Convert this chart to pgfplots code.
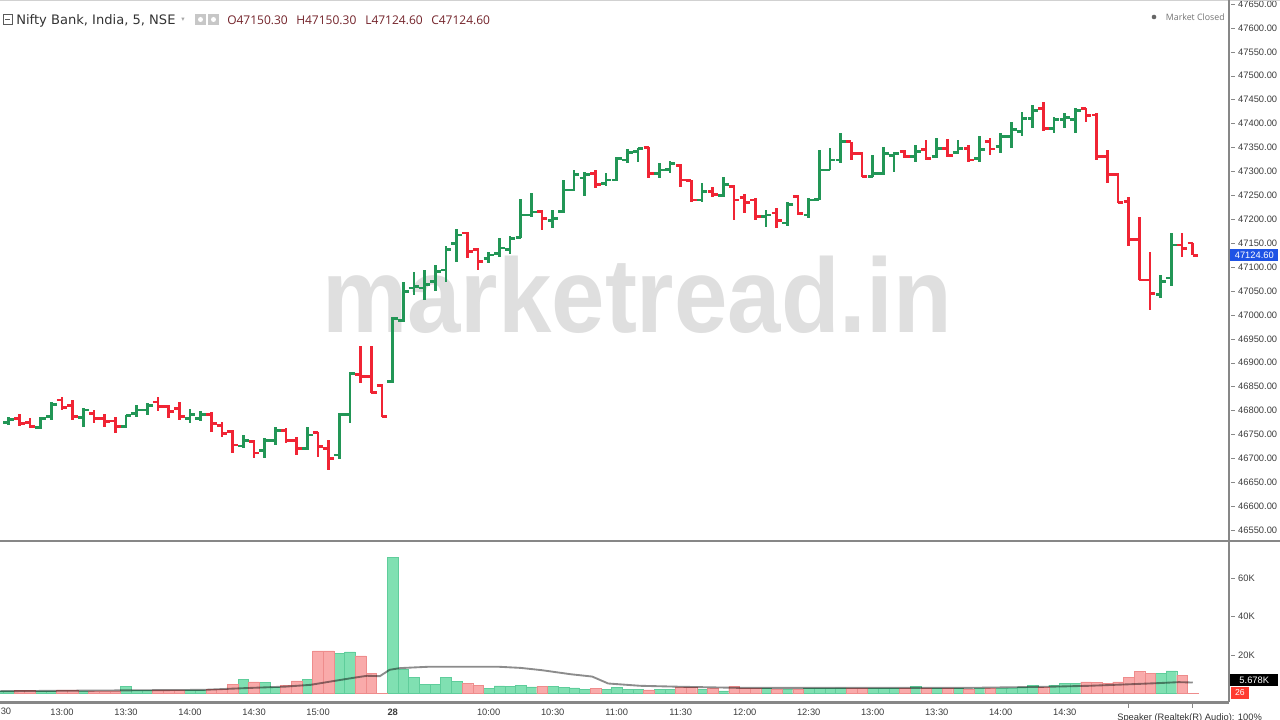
\documentclass[border=0pt]{standalone}
\usepackage{pgfplots}
\pgfplotsset{compat=1.18}
\usepackage{pgfplotstable}
\usepackage{fontspec}
\setmainfont{Liberation Sans}
\newfontfamily\osans{Open Sans}
\newfontfamily\dejavu{DejaVu Sans}
\definecolor{upc}{RGB}{34,150,86}
\definecolor{dnc}{RGB}{240,36,52}
\definecolor{vup}{RGB}{128,224,178}
\definecolor{vupe}{RGB}{95,205,155}
\definecolor{vdn}{RGB}{249,170,170}
\definecolor{vdne}{RGB}{238,140,140}
\definecolor{axisgray}{RGB}{135,135,135}
\definecolor{lab}{RGB}{60,60,60}
\definecolor{ohlc}{RGB}{115,35,42}
\definecolor{wm}{RGB}{223,223,223}
\definecolor{pblue}{RGB}{30,83,229}
\definecolor{vred}{RGB}{255,59,48}

\pgfdeclareplotmark{tickL}{\pgfpathmoveto{\pgfqpoint{-3.9pt}{0pt}}\pgfpathlineto{\pgfqpoint{0pt}{0pt}}\pgfusepathqstroke}
\pgfdeclareplotmark{tickR}{\pgfpathmoveto{\pgfqpoint{0pt}{0pt}}\pgfpathlineto{\pgfqpoint{3.9pt}{0pt}}\pgfusepathqstroke}
\newcommand\dashm{{\color{axisgray}\rule[0.28em]{3pt}{0.6pt}}\hspace{2.2pt}}

\pgfplotstableread{
x o h l c
-6 46769 46778 46766 46772
-5 46775 46787 46770 46782
-2 46765 46786 46761 46784
-1 46787 46818 46780 46813
2 46786 46805 46765 46801
6 46766 46791 46763 46789
7 46794 46812 46787 46801
8 46801 46815 46791 46810
12 46784 46803 46773 46791
13 46784 46798 46779 46791
17 46726 46749 46722 46738
19 46717 46742 46700 46738
20 46738 46766 46728 46759
23 46721 46766 46717 46749
26 46707 46794 46698 46791
27 46791 46881 46773 46878
31 46860 46996 46857 46993
32 46989 47069 46986 47049
33 47056 47090 47042 47060
34 47056 47094 47031 47063
35 47069 47104 47049 47090
36 47094 47143 47069 47136
37 47150 47179 47111 47167
40 47118 47132 47108 47125
41 47129 47161 47121 47140
42 47136 47165 47127 47160
43 47162 47242 47160 47209
44 47209 47254 47204 47215
46 47198 47219 47181 47202
47 47216 47281 47212 47261
48 47261 47303 47258 47293
49 47286 47299 47249 47293
51 47275 47297 47270 47282
52 47282 47331 47281 47327
53 47324 47346 47317 47339
54 47341 47348 47320 47348
56 47296 47317 47286 47303
57 47304 47322 47297 47317
60 47240 47275 47237 47258
62 47249 47289 47247 47272
66 47205 47219 47184 47209
68 47192 47237 47186 47230
70 47209 47244 47202 47240
71 47242 47345 47240 47303
72 47303 47348 47303 47324
73 47324 47381 47317 47362
76 47290 47334 47288 47296
77 47296 47352 47293 47338
78 47334 47341 47299 47338
80 47331 47355 47320 47341
82 47331 47369 47327 47348
84 47339 47366 47338 47348
86 47327 47374 47320 47345
88 47352 47380 47338 47373
89 47373 47404 47348 47387
90 47383 47425 47373 47411
91 47411 47439 47390 47428
93 47390 47414 47380 47408
94 47408 47422 47390 47412
95 47408 47432 47380 47428
103 47042 47083 47036 47069
104 47077 47171 47061 47146
}\upbars

\pgfplotstableread{
x o h l c
-4 46784 46792 46768 46773
-3 46775 46784 46763 46766
0 46822 46829 46801 46806
1 46810 46821 46780 46787
3 46794 46801 46773 46784
4 46784 46792 46766 46777
5 46778 46787 46752 46766
9 46818 46829 46799 46808
10 46808 46812 46784 46798
11 46805 46818 46780 46787
14 46791 46796 46756 46773
15 46768 46775 46745 46752
16 46756 46759 46711 46728
18 46736 46738 46700 46711
21 46759 46763 46732 46738
22 46737 46745 46707 46721
24 46754 46756 46703 46724
25 46721 46738 46676 46700
28 46876 46935 46857 46871
29 46871 46935 46836 46837
30 46853 46855 46786 46787
38 47171 47174 47118 47132
39 47136 47139 47094 47111
45 47216 47219 47178 47202
50 47296 47303 47265 47272
55 47350 47352 47286 47296
58 47313 47315 47268 47282
59 47281 47282 47237 47240
61 47258 47268 47247 47251
63 47268 47272 47198 47240
64 47245 47253 47214 47235
65 47240 47244 47198 47205
67 47213 47223 47181 47198
69 47247 47251 47209 47212
74 47362 47362 47324 47338
75 47338 47341 47289 47290
79 47341 47345 47327 47331
81 47345 47366 47324 47327
83 47348 47367 47331 47334
85 47348 47355 47320 47324
87 47362 47369 47334 47347
92 47432 47445 47385 47390
96 47432 47433 47404 47417
97 47418 47422 47324 47331
98 47331 47345 47275 47293
99 47293 47296 47233 47235
100 47237 47247 47143 47157
101 47157 47205 47073 47073
102 47073 47132 47010 47045
105 47146 47171 47122 47139
106 47150.3 47150.3 47124.6 47124.6
}\dnbars

\pgfplotstableread{
x v
-6 1400
-5 1400
-2 1400
-1 1400
2 1400
6 3600
7 1700
8 1700
12 1900
13 1900
17 7400
19 5700
20 3100
23 7400
26 21000
27 21600
31 70700
32 12600
33 8300
34 4800
35 4800
36 8300
37 6200
40 2800
41 4000
42 3600
43 4300
44 3500
46 3600
47 3300
48 2900
49 2200
51 2200
52 3100
53 2200
54 2200
56 2200
57 2200
60 2200
62 1400
66 2600
68 2200
70 2600
71 2600
72 2600
73 2900
76 2600
77 2600
78 2600
80 3600
82 2600
84 2600
86 2600
88 2600
89 2900
90 3100
91 4300
93 4300
94 5400
95 5400
103 10600
104 11800
}\upvol

\pgfplotstableread{
x v
-4 1700
-3 1700
0 1900
1 1900
3 1400
4 1400
5 1400
9 1900
10 1900
11 1900
14 2200
15 2200
16 4800
18 6100
21 4300
22 6600
24 22200
25 22200
28 19600
29 10600
30 50
38 5400
39 4300
45 3600
50 2600
55 1900
58 3100
59 3100
61 2600
63 3600
64 2600
65 2600
67 2200
69 2200
74 2600
75 2600
79 2600
81 2600
83 2600
85 2200
87 2600
92 3100
96 6100
97 5700
98 5400
99 6100
100 8300
101 11400
102 10400
105 9500
106 26
}\dnvol

\begin{document}
\begin{tikzpicture}[x=0.75pt,y=0.75pt]
\useasboundingbox (0,0) rectangle (1280,720);
% watermark
\node[font=\fontsize{72}{72}\selectfont\bfseries, text=wm, anchor=base, inner sep=0, yscale=1.1] at (637,387) {marketread.in};

% price pane
\begin{axis}[at={(0pt,135pt)}, anchor=south west, scale only axis,
  width=921.75pt, height=405pt,
  xmin=-5.8125, xmax=109.4, ymin=46529.3, ymax=47658.4,
  axis line style={draw=none}, xtick=\empty,
  ytick={46550,46600,46650,46700,46750,46800,46850,46900,46950,47000,47050,47100,47150,47200,47250,47300,47350,47400,47450,47500,47550,47600,47650},
  ytick pos=right, yticklabel pos=right,
  major tick length=0pt, scaled y ticks=false,
  yticklabel={\dashm\pgfmathprintnumber{\tick}},
  yticklabel style={font=\fontsize{7}{8}\selectfont, text=lab, inner sep=1.5pt,
    /pgf/number format/.cd, fixed, fixed zerofill, precision=2, 1000 sep={}, assume math mode=true}]
\addplot[only marks, mark=tickL, upc, line width=2.1pt,
  error bars/.cd, y dir=both, y explicit, error mark=none, error bar style={line width=2.1pt, upc}]
  table[x=x, y=o, y error plus expr=\thisrow{h}-\thisrow{o}, y error minus expr=\thisrow{o}-\thisrow{l}] {\upbars};
\addplot[only marks, mark=tickR, upc, line width=2.1pt] table[x=x, y=c] {\upbars};
\addplot[only marks, mark=tickL, dnc, line width=2.1pt,
  error bars/.cd, y dir=both, y explicit, error mark=none, error bar style={line width=2.1pt, dnc}]
  table[x=x, y=o, y error plus expr=\thisrow{h}-\thisrow{o}, y error minus expr=\thisrow{o}-\thisrow{l}] {\dnbars};
\addplot[only marks, mark=tickR, dnc, line width=2.1pt] table[x=x, y=c] {\dnbars};
\end{axis}

% volume pane
\begin{axis}[at={(0pt,13.125pt)}, anchor=south west, scale only axis,
  width=921.75pt, height=121.125pt,
  xmin=-5.8125, xmax=109.4, ymin=-4675, ymax=79224,
  axis line style={draw=none}, major tick length=0pt, clip=true,
  scaled y ticks=false,
  ytick={20000,40000,60000}, yticklabels={\dashm 20K,\dashm 40K,\dashm 60K},
  ytick pos=right, yticklabel pos=right,
  yticklabel style={font=\fontsize{7}{8}\selectfont, text=lab, inner sep=1.5pt},
  xtick={0,6,12,18,24,31,40,46,52,58,64,70,76,82,88,94},
  xticklabels={13:00,13:30,14:00,14:30,15:00,\textbf{28},10:00,10:30,11:00,11:30,12:00,12:30,13:00,13:30,14:00,14:30},
  xticklabel style={font=\fontsize{7}{8}\selectfont, text=lab, yshift=-1.5pt}]
\addplot[ybar, bar width=1, bar shift=0pt, fill=vup, draw=vupe, line width=0.3pt] table[x=x, y=v] {\upvol};
\addplot[ybar, bar width=1, bar shift=0pt, fill=vdn, draw=vdne, line width=0.3pt] table[x=x, y=v] {\dnvol};
\addplot[black, draw opacity=0.45, line width=1.4pt, mark=none] coordinates {
(-5.8,1200) (13.3,1900) (17.2,2800) (21,3600) (23.3,4500) (25.6,6600) (27.5,8300)
(28.6,9200) (29.8,9000) (30.7,12300) (31.7,13200) (34.4,13900) (40.9,13900)
(43,13300) (45,12100) (47.7,10000) (49.7,8800) (51.2,5200) (54.2,4000) (58,3500)
(63.7,2900) (84.7,2900) (92.4,3500) (96.3,4000) (100.1,4800) (102.8,5400)
(104.7,5900) (106,5700)};
\end{axis}

% frame lines
\draw[black!18, line width=1.5pt] (0,719.5) -- (1280,719.5);
\draw[axisgray, line width=1.6pt] (0,179) -- (1280,179);
\draw[axisgray, line width=1.6pt] (0,17.5) -- (1229,17.5);
\draw[axisgray, line width=1pt] (1229,17.5) -- (1229,720);
\draw[axisgray, line width=0.8pt] (1128.7,17.5) -- (1128.7,12) (1192.7,17.5) -- (1192.7,12);

% left partial time label (only its end is visible in the reference)
\node[font=\fontsize{7}{8}\selectfont, text=lab, anchor=base west, inner sep=0] at (0.5,5) {30};

% header
\draw[black!65, line width=0.7pt] (3,706) rectangle (12,696);
\draw[black!65, line width=0.7pt] (5,701) -- (10,701);
\node[font=\dejavu\fontsize{9.8}{11}\selectfont, text=black!80, anchor=base west, inner sep=0] at (16,695.5) {Nifty Bank, India, 5, NSE};
\node[font=\dejavu\fontsize{5}{6}\selectfont, text=black!35, anchor=center, inner sep=0] at (183,700) {▾};
\fill[black!22] (195,706) rectangle (206,695);
\fill[white] (200.5,700.5) circle (2.5);
\fill[black!22] (208,706) rectangle (219,695);
\fill[white] (213.5,700.5) circle (2.5);
\node[font=\osans\fontsize{9}{10}\selectfont, text=ohlc, anchor=base west, inner sep=0] at (227,695.5) {O47150.30};
\node[font=\osans\fontsize{9}{10}\selectfont, text=ohlc, anchor=base west, inner sep=0] at (296,695.5) {H47150.30};
\node[font=\osans\fontsize{9}{10}\selectfont, text=ohlc, anchor=base west, inner sep=0] at (365,695.5) {L47124.60};
\node[font=\osans\fontsize{9}{10}\selectfont, text=ohlc, anchor=base west, inner sep=0] at (431,695.5) {C47124.60};

% market closed
\fill[black!60] (1154,703) circle (2.3);
\node[font=\osans\fontsize{6.6}{7}\selectfont, text=black!55, anchor=east, inner sep=0] at (1225,703) {Market Closed};

% right price / volume tags
\node[fill=pblue, text=white, font=\fontsize{7}{8}\selectfont, anchor=west, minimum width=36pt, minimum height=9pt, inner sep=0.5pt] at (1230,465) {47124.60};
\node[fill=black, text=white, font=\fontsize{7}{8}\selectfont, anchor=west, minimum width=36pt, minimum height=9pt, inner sep=0.5pt] at (1230,40) {5.678K};
\node[fill=vred, text=white, font=\fontsize{6.5}{7}\selectfont, anchor=west, minimum width=13pt, minimum height=9pt, inner sep=0.5pt] at (1231,27) {26};

% OS overlay text
\node[font=\fontsize{7}{8}\selectfont, text=black!80, anchor=north west, inner sep=0] at (1117,7) {Speaker (Realtek(R) Audio): 100\%};
\end{tikzpicture}
\end{document}
